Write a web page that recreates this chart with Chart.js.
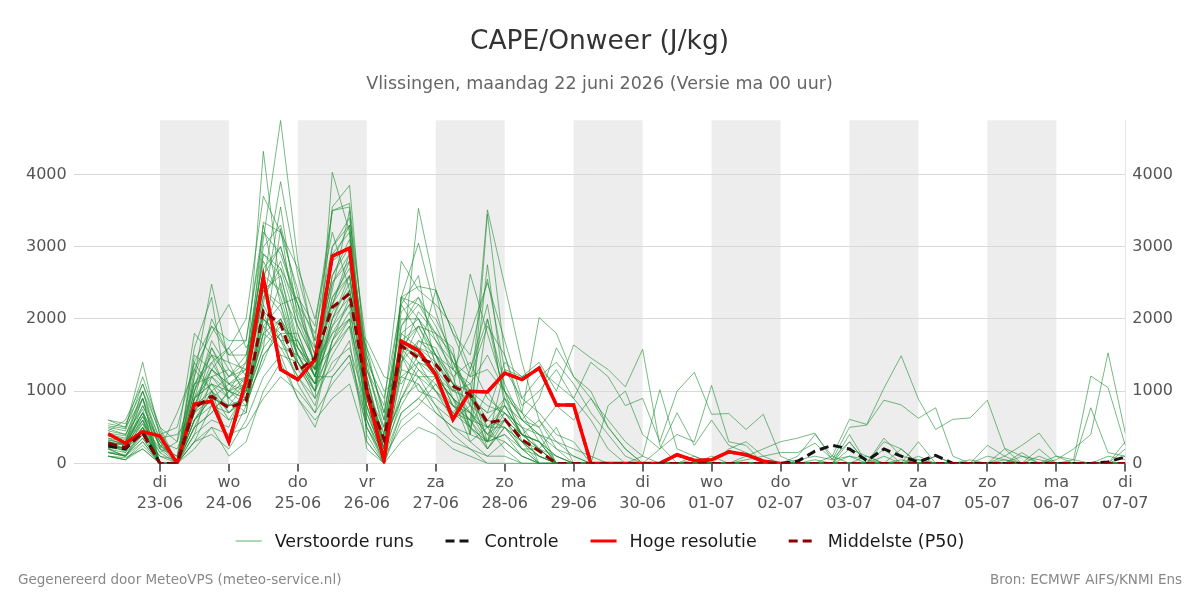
<!DOCTYPE html>
<html>
<head>
<meta charset="utf-8">
<script src="https://cdn.jsdelivr.net/npm/chart.js@4/dist/chart.umd.min.js"></script>
<style>
html,body{margin:0;padding:0;background:#fff;}
#c{display:block;}
</style>
</head>
<body>
<canvas id="c" width="1200" height="600"></canvas>
<script>
// ---- categories (hours since 22-06 00:00, 6-hourly steps) ----
const stepHour = 6;
const times = Array.from({length: 60}, (_, i) => stepHour + stepHour * i);

// ---- x tick labels ----
const tickDays  = ['di','wo','do','vr','za','zo','ma','di','wo','do','vr','za','zo','ma','di'];
const tickDates = ['23-06','24-06','25-06','26-06','27-06','28-06','29-06','30-06','01-07','02-07','03-07','04-07','05-07','06-07','07-07'];
const tickHours = tickDates.map((_, k) => 24 * (k + 1));
const shadedDayIndex = [0, 2, 4, 6, 8, 10, 12]; // di 23-06, do 25-06, ...
const yTicks = [0, 1000, 2000, 3000, 4000];

// ---- texts ----
const titleText = 'CAPE/Onweer (J/kg)';
const subtitleText = 'Vlissingen, maandag 22 juni 2026 (Versie ma 00 uur)';
const legendTexts = ['Verstoorde runs', 'Controle', 'Hoge resolutie', 'Middelste (P50)'];
const footerLeft = 'Gegenereerd door MeteoVPS (meteo-service.nl)';
const footerRight = 'Bron: ECMWF AIFS/KNMI Ens';

// ---- main series ----
const hres = [410,280,440,380,0, 820,860,300,1150, 2570,1300,1160,1440, 2870,2980,1000,40, 1690,1560,1230,610, 1000,990,1250,1160, 1320,810,810,0,0,0,0, 0,120,40,50,160,120,30,0, null,null,null,null,null,null,null,null,null,null, null,null,null,null,null,null,null,null,null,null];
const median = [280,220,420,0,0, 770,930,770,860, 2110,1930,1280,1460, 2160,2350,1000,330, 1630,1460,1370,1070, 950,560,610,330, 170,0,0,0,0,0,0, 0,0,0,0,0,0,0,0, 0,0,0,0,0,0,0,0,0,0, 0,0,0,0,0,0,0,0,0,0];
const control = [240,200,430,0,0, 820,860,300,1150, 2570,1300,1160,1440, 2870,2980,1000,40, 1690,1560,1230,610, 1000,990,1250,1160, 1320,810,810,0,0,0,0, 0,120,40,50,160,120,30,0, 30,170,250,200,40,200,100,20,110,0, 0,0,0,0,0,0,0,0,20,90];

// ---- perturbed runs ----
const r01 = [520,480,1400,380,0, 900,1700,1300,1100, 2300,2800,2000,1600, 2500,2900,700,100, 1800,2000,1500,900, 600,300,400,100, 0,0,0,0,0,0,0, 0,0,0,0,0,0,0,0, 0,0,0,0,0,0,0,0,0,0, 0,0,0,0,0,0,0,0,0,0];
const r02 = [300,200,800,250,50, 1200,2480,1400,900, 1900,1600,1200,800, 1700,2300,900,300, 900,1400,1000,600, 1300,2000,900,400, 300,0,0,0,0,0,0, 0,0,0,0,0,0,0,0, 0,0,0,0,0,0,0,0,0,0, 0,0,0,0,0,0,0,0,0,0];
const r03 = [200,150,600,0,0, 1600,2300,800,1100, 3340,3200,2400,1300, 3000,3300,600,0, 2300,2000,1500,1200, 500,1000,600,200, 200,100,0,0,0,0,0, 0,0,0,0,0,0,0,0, 0,0,0,0,0,0,0,0,0,0, 0,0,0,0,0,0,0,0,0,0];
const r04 = [400,300,1000,200,700, 1300,1800,2200,1600, 2000,1700,1400,1100, 2000,2600,1000,300, 1500,1200,800,400, 200,0,0,0, 0,0,0,0,0,0,0, 0,0,0,0,0,0,0,0, 0,0,0,0,0,0,0,0,0,0, 0,0,0,0,0,0,0,0,0,0];
const r05 = [150,100,400,0,0, 400,1200,1000,1200, 4320,2400,1600,1200, 2800,3300,1100,0, 2300,2450,2400,1800, 1200,1900,1500,800, 1000,1300,900,600,200,0,0, 0,0,0,0,0,0,0,0, 0,0,0,0,0,0,0,0,0,0, 0,0,0,0,0,0,0,0,0,0];
const r06 = [250,300,700,300,0, 900,1300,1600,2000, 3700,3200,2700,2000, 3200,2400,1200,200, 1000,1700,1500,1300, 1800,2500,1700,900, 700,400,300,0,0,0,0, 0,0,0,0,0,0,0,0, 0,0,0,0,0,0,0,0,0,0, 0,0,0,0,0,0,0,0,0,0];
const r07 = [100,50,300,0,0, 600,900,1100,1200, 3000,3300,2300,1900, 3500,3550,300,0, 700,900,1200,1000, 2620,1800,1000,600, 400,200,100,0,0,0,0, 0,0,0,0,0,0,0,0, 0,0,0,0,0,0,0,0,0,0, 0,0,0,0,0,0,0,0,0,0];
const r08 = [350,250,900,200,100, 1100,1500,1200,1400, 3100,4750,2800,1600, 2200,2800,900,150, 1600,1900,1800,1500, 900,500,700,500, 200,0,0,0,0,0,0, 0,0,0,0,0,0,0,0, 0,0,0,0,0,0,0,0,0,0, 0,0,0,0,0,0,0,0,0,0];
const r09 = [450,600,1100,500,0, 900,1100,700,1000, 2500,3900,2600,1700, 3500,3600,1400,400, 2200,2600,1300,800, 700,400,600,400, 300,100,0,0,0,0,0, 0,0,0,0,0,0,0,0, 0,0,0,0,0,0,0,0,0,0, 0,0,0,0,0,0,0,0,0,0];
const r10 = [200,100,500,0,0, 300,800,600,700, 2200,3550,2000,1400, 1800,2200,1600,1000, 1200,1100,700,500, 400,2000,1100,600, 900,1600,1200,1000,500,200,0, 0,0,0,0,0,0,0,0, 0,0,0,0,0,0,0,0,0,0, 0,0,0,0,0,0,0,0,0,0];
const r11 = [600,550,1000,300,0, 700,1300,1100,900, 1600,3250,1800,1200, 1200,1500,500,50, 2300,3050,2100,1400, 1000,200,500,200, 100,0,0,0,0,0,0, 0,0,0,0,0,0,0,0, 0,0,0,0,0,0,0,0,0,0, 0,0,0,0,0,0,0,0,0,0];
const r12 = [300,250,700,0,0, 1500,1300,1000,800, 1800,2500,1400,900, 4030,3200,800,0, 1900,2200,2000,1500, 800,3510,2470,1400, 600,200,0,0,0,0,0, 0,0,0,0,0,0,0,0, 0,0,0,0,0,0,0,0,0,0, 0,0,0,0,0,0,0,0,0,0];
const r13 = [100,80,200,0,0, 500,700,1000,900, 1400,2000,1500,1100, 3550,3850,1200,200, 1400,1700,1600,1100, 400,3450,1500,700, 300,100,0,0,0,0,0, 0,0,0,0,0,0,0,0, 0,0,0,0,0,0,0,0,0,0, 0,0,0,0,0,0,0,0,0,0];
const r14 = [480,400,900,350,400, 700,1600,1100,1300, 2700,3000,2200,1500, 2400,3500,1000,300, 900,1300,1000,800, 600,2750,1000,300, 0,0,0,0,0,0,0, 0,0,0,0,0,0,0,0, 0,0,0,0,0,0,0,0,0,0, 0,0,0,0,0,0,0,0,0,0];
const r15 = [250,200,500,0,0, 1000,2000,1500,1500, 2400,2600,1600,1300, 2600,3100,1300,800, 2800,2400,2200,1900, 1300,2200,800,400, 300,0,0,0,0,0,0, 0,0,0,0,0,0,0,0, 0,0,0,0,0,0,0,0,0,0, 0,0,0,0,0,0,0,0,0,0];
const r16 = [150,100,300,0,0, 400,600,500,1100, 1900,2200,1300,1000, 1500,1900,500,0, 1300,3530,2400,1800, 1500,2550,1300,900, 1200,1400,1100,700,400,100,0, 0,0,0,0,0,0,0,0, 0,0,0,0,0,0,0,0,0,0, 0,0,0,0,0,0,0,0,0,0];
const r17 = [400,350,800,300,200, 800,1400,1600,1200, 2300,2700,2200,1300, 1600,2000,1700,1200, 1100,1500,2400,1300, 1000,600,900,700, 2020,1800,1200,900,600,300,100, 0,0,0,0,0,0,0,0, 0,0,0,0,0,0,0,0,0,0, 0,0,0,0,0,0,0,0,0,0];
const r18 = [600,500,1200,500,300, 1800,1500,900,1100, 2600,2400,1900,1400, 2800,3000,400,0, 1500,2100,1800,1600, 400,300,1300,1200, 1400,1000,1640,1460,1300,1060,1580, 250,0,0,0,0,0,0,0, 0,0,0,0,0,0,0,0,0,0, 0,0,0,0,0,0,0,0,0,0];
const r19 = [200,300,600,0,0, 1300,1000,1200,1500, 2800,2300,1500,1100, 1300,1700,200,0, 600,800,1100,700, 1000,500,800,400, 600,300,200,100,0,0,0, 0,0,0,0,0,0,0,0, 0,0,0,0,0,0,0,0,0,0, 0,0,0,150,0,0,0,0,0,200];
const r20 = [300,150,400,100,50, 800,1000,300,800, 1500,1800,1100,700, 1700,2100,900,300, 1700,1400,1300,1000, 900,700,1400,1200, 1300,1100,900,1400,1200,800,900, 300,1000,1260,680,690,470,680,100, 0,0,0,0,0,0,0,0,0,0, 0,0,0,0,0,0,0,0,0,0];
const r21 = [550,500,900,0,0, 1200,1900,1700,1700, 3300,2200,2300,1700, 2200,2900,1100,200, 800,1200,1200,900, 300,500,200,0, 0,0,0,0,0,0,0, 0,0,0,0,0,0,0,0, 0,50,0,300,0,100,0,50,0,0, 0,0,100,0,0,0,50,0,0,0];
const r22 = [100,50,200,0,0, 200,500,100,300, 1000,1400,900,500, 1200,1500,600,100, 500,700,500,300, 200,100,100,0, 0,0,0,0,0,0,0, 0,0,50,0,0,0,0,0, 0,0,0,200,100,0,200,0,100,0, 50,0,0,100,0,0,0,0,100,50];
const r23 = [350,300,650,0,0, 600,900,800,900, 2000,1800,1800,1200, 2300,2700,1500,700, 1900,2300,1700,1300, 1100,1500,1000,700, 500,800,600,900,500,200,0, 200,400,300,1080,300,250,0,0, 0,0,0,0,0,0,0,0,0,0, 0,0,0,0,0,0,0,0,0,0];
const r24 = [250,200,500,150,0, 900,1200,1300,1000, 1700,2000,1600,1300, 1900,2400,1300,600, 1700,1900,1400,1100, 700,300,900,500, 0,0,0,0,0,0,100, 1020,200,100,0,0,0,0,0, 0,0,0,0,0,200,0,100,0,0, 0,0,0,0,0,0,0,0,0,0];
const r25 = [450,400,750,0,0, 500,700,1000,1400, 2400,2100,1500,1000, 2000,2500,1400,900, 2200,1800,1300,800, 500,200,600,400, 200,500,0,0,0,0,0, 0,0,0,0,0,0,0,0, 0,0,0,400,0,0,0,0,0,0, 0,0,0,0,200,0,0,0,0,0];
const r26 = [200,100,350,0,0, 300,400,200,600, 1200,1500,900,600, 900,1100,300,0, 300,500,400,200, 100,0,0,0, 0,0,0,0,0,0,0, 0,0,0,100,0,0,0,0, 0,0,100,0,0,0,50,0,100,0, 0,0,0,0,0,0,0,0,0,100];
const r27 = [380,330,700,250,100, 1400,1000,600,1000, 2100,1500,1400,1000, 2500,2800,1000,400, 1800,1600,1400,1000, 1100,300,700,500, 400,0,0,0,800,1000,400, 200,700,250,600,250,150,50,0, 0,0,0,0,0,0,0,0,0,0, 0,0,0,0,0,0,0,0,0,0];
const r28 = [150,100,450,0,0, 700,1100,900,700, 2000,1700,1200,900, 1400,1600,800,200, 1500,1000,900,700, 600,200,500,300, 200,0,0,0,0,0,0, 0,0,0,0,0,100,200,300, 350,420,50,100,50,0,0,0,0,0, 0,0,0,0,0,0,0,0,0,0];
const r29 = [300,250,600,150,300, 1100,1400,1000,900, 1600,1900,1700,1200, 1800,2000,600,100, 900,1100,800,600, 800,400,800,600, 500,0,0,0,0,0,0, 0,0,0,0,0,50,100,150, 150,280,60,300,0,350,100,50,0,0, 0,100,50,0,100,0,0,0,0,0];
const r30 = [250,200,550,0,0, 600,1000,700,900, 1800,1600,1500,1100, 1600,1900,1000,500, 1600,1500,1200,900, 700,500,600,300, 100,0,0,0,0,0,0, 0,0,0,0,0,0,0,0, 100,400,100,610,540,1040,1490,890,470,610, 630,875,210,100,50,0,0,0,0,0];
const r31 = [420,380,1000,450,0, 1000,1500,1400,1300, 2900,2700,1900,1400, 2600,3000,1500,700, 2000,2000,1700,1400, 1200,1300,1000,600, 400,300,100,0,0,0,0, 0,100,50,0,0,0,0,0, 50,100,50,500,530,875,810,625,770,100, 0,0,50,0,0,0,0,0,0,0];
const r32 = [100,50,250,0,0, 300,500,400,500, 900,1200,1000,700, 1100,1400,500,100, 700,900,700,500, 300,100,300,100, 0,0,0,0,0,0,0, 0,0,0,0,0,0,0,0, 0,0,0,0,0,0,0,0,0,0, 0,250,100,250,420,100,50,1210,1050,250];
const r33 = [320,280,550,200,0, 800,1300,1100,1000, 2200,1700,1700,1200, 2100,2400,900,200, 1700,1500,1200,900, 500,300,600,300, 100,0,0,0,0,0,0, 0,0,0,0,0,0,0,0, 0,0,0,0,0,0,0,0,0,0, 0,0,0,0,0,50,200,400,1530,420];
const r34 = [220,180,500,0,0, 700,900,800,800, 1500,1800,1400,1000, 1700,2000,800,100, 1600,1300,1100,800, 600,500,500,300, 100,0,0,0,0,0,0, 0,0,0,0,0,0,0,0, 0,0,0,0,0,0,0,0,0,0, 0,0,0,0,0,0,0,770,150,100];
const r35 = [380,300,900,0,0, 1000,1600,1200,1300, 2600,3000,2100,1500, 2900,3200,1300,500, 2100,2300,1900,1400, 900,700,800,400, 200,0,0,0,0,0,0, 0,0,0,0,0,0,0,0, 0,0,0,0,0,0,0,0,0,0, 0,0,0,0,0,0,0,0,0,0];
const r36 = [280,200,650,250,0, 1100,1200,900,1200, 2900,2600,1700,1300, 2300,2600,1200,300, 1400,1900,1500,1100, 800,600,500,200, 0,0,0,0,0,0,0, 0,0,0,0,0,0,0,0, 0,0,0,0,0,0,0,0,0,0, 0,0,0,0,0,0,0,0,0,0];
const r37 = [500,450,1100,400,500, 1400,1900,1500,1700, 3200,2900,2200,1800, 3000,3400,1600,600, 2300,2200,1800,1200, 1400,900,700,400, 300,0,0,0,0,0,0, 0,0,0,0,0,0,0,0, 0,0,0,0,0,0,0,0,0,0, 0,0,0,0,0,0,0,0,0,0];
const r38 = [160,120,350,0,0, 600,800,700,900, 2100,1900,1600,1200, 2000,2300,1000,200, 1300,1200,1000,700, 500,300,400,200, 0,0,0,0,0,0,0, 0,0,100,0,200,300,100,0, 0,0,0,100,0,300,200,0,0,0, 0,0,0,0,0,0,0,0,0,0];
const r39 = [330,260,700,0,0, 900,1100,1000,1100, 2400,2200,1500,1300, 2200,2600,1100,300, 1700,1600,1500,1100, 1000,800,700,400, 200,0,0,0,0,0,0, 0,0,0,0,0,0,0,0, 0,0,0,0,0,0,0,0,0,0, 0,0,0,0,0,0,0,0,0,0];
const r40 = [240,180,450,100,0, 500,1000,800,900, 1800,2000,1400,1100, 1900,2200,700,100, 1200,1400,1200,900, 700,400,300,100, 0,0,0,0,0,0,0, 0,0,0,0,0,0,0,0, 0,0,0,0,100,0,0,300,0,0, 0,0,200,0,0,100,0,0,0,300];
const runs = [r01,r02,r03,r04,r05,r06,r07,r08,r09,r10,r11,r12,r13,r14,r15,r16,r17,r18,r19,r20,r21,r22,r23,r24,r25,r26,r27,r28,r29,r30,r31,r32,r33,r34,r35,r36,r37,r38,r39,r40];

// ---- styles ----
const FONT = '"DejaVu Sans", sans-serif';
const runColor = 'rgba(30,140,50,0.6)';
const legendRunColor = 'rgba(70,170,85,0.75)';
const hresColor = '#ff0000';
const medianColor = '#8b0000';
const controlColor = '#151515';
const dash = [9, 5];

const toPoints = arr => arr.map((v, i) => ({x: times[i], y: v}));

const datasets = [
  {label: legendTexts[3], data: toPoints(median), borderColor: medianColor, borderWidth: 3, borderDash: dash},
  {label: legendTexts[2], data: toPoints(hres), borderColor: hresColor, borderWidth: 3.5},
  {label: legendTexts[1], data: toPoints(control), borderColor: controlColor, borderWidth: 3, borderDash: dash},
  ...runs.map((r, k) => ({label: legendTexts[0] + ' ' + (k + 1), data: toPoints(r), borderColor: runColor, borderWidth: 1}))
];

const bandsPlugin = {
  id: 'bands',
  beforeDraw(chart) {
    const {ctx, chartArea, scales} = chart;
    const x = scales.x;
    ctx.save();
    ctx.fillStyle = '#ededed';
    shadedDayIndex.forEach(k => {
      const h0 = tickHours[k], h1 = h0 + 24;
      const x0 = x.getPixelForValue(h0), x1 = x.getPixelForValue(h1);
      ctx.fillRect(x0, chartArea.top, x1 - x0, chartArea.bottom - chartArea.top);
    });
    ctx.restore();
  }
};

const legendFooterPlugin = {
  id: 'legendFooter',
  afterDraw(chart) {
    const ctx = chart.ctx;
    ctx.save();
    ctx.font = '17.5px ' + FONT;
    ctx.textBaseline = 'middle';
    const items = [
      {text: legendTexts[0], color: legendRunColor, width: 1.2, dash: []},
      {text: legendTexts[1], color: controlColor, width: 3, dash: dash},
      {text: legendTexts[2], color: hresColor, width: 3, dash: []},
      {text: legendTexts[3], color: medianColor, width: 3, dash: dash}
    ];
    const sample = 26, gapText = 13, gapItem = 32;
    let total = 0;
    items.forEach((it, k) => {
      it.w = ctx.measureText(it.text).width;
      total += sample + gapText + it.w + (k < items.length - 1 ? gapItem : 0);
    });
    let x = 600 - total / 2;
    const y = 541;
    items.forEach(it => {
      ctx.beginPath();
      ctx.setLineDash(it.dash);
      ctx.strokeStyle = it.color;
      ctx.lineWidth = it.width;
      ctx.moveTo(x, y);
      ctx.lineTo(x + sample, y);
      ctx.stroke();
      ctx.setLineDash([]);
      ctx.fillStyle = '#1a1a1a';
      ctx.textAlign = 'left';
      ctx.fillText(it.text, x + sample + gapText, y + 1);
      x += sample + gapText + it.w + gapItem;
    });
    ctx.font = '13.5px ' + FONT;
    ctx.fillStyle = '#888888';
    ctx.textAlign = 'left';
    ctx.fillText(footerLeft, 18, 580);
    ctx.textAlign = 'right';
    ctx.fillText(footerRight, 1182, 580);
    ctx.restore();
  }
};

Chart.defaults.font.family = FONT;

const yLabel = v => String(v);

new Chart(document.getElementById('c'), {
  type: 'line',
  data: {datasets},
  options: {
    responsive: false,
    animation: false,
    devicePixelRatio: 1,
    elements: {point: {radius: 0, hoverRadius: 0}, line: {tension: 0}},
    layout: {padding: {left: 19, right: 20, top: 0, bottom: 85}},
    plugins: {
      legend: {display: false},
      tooltip: {enabled: false},
      title: {display: true, text: titleText, color: '#333333', font: {size: 26.5, weight: 'normal'}, padding: {top: 26, bottom: 16}},
      subtitle: {display: true, text: subtitleText, color: '#666666', font: {size: 17.5, weight: 'normal'}, padding: {top: 0, bottom: 25.5}}
    },
    scales: {
      x: {
        type: 'linear', min: -6, max: 360,
        afterBuildTicks: s => { s.ticks = tickHours.map(v => ({value: v})); },
        ticks: {
          autoSkip: false, maxRotation: 0, color: '#555555', padding: 1,
          font: {size: 16, lineHeight: 1.3},
          callback: (v, i) => [tickDays[i], tickDates[i]]
        },
        grid: {drawOnChartArea: false, drawTicks: true, tickLength: 8, color: '#666666', lineWidth: 2},
        border: {display: false}
      },
      y: {
        position: 'left', min: 0, max: 4750,
        afterBuildTicks: s => { s.ticks = yTicks.map(v => ({value: v})); },
        ticks: {color: '#555555', padding: 7, font: {size: 16}, callback: yLabel},
        grid: {color: '#d9d9d9', lineWidth: 1, drawTicks: false},
        border: {display: false}
      },
      y2: {
        position: 'right', min: 0, max: 4750,
        afterBuildTicks: s => { s.ticks = yTicks.map(v => ({value: v})); },
        ticks: {color: '#555555', padding: 7, font: {size: 16}, callback: yLabel},
        grid: {display: false, drawTicks: false},
        border: {display: true, color: '#e6e6e6', width: 1}
      }
    }
  },
  plugins: [bandsPlugin, legendFooterPlugin]
});
</script>
</body>
</html>
